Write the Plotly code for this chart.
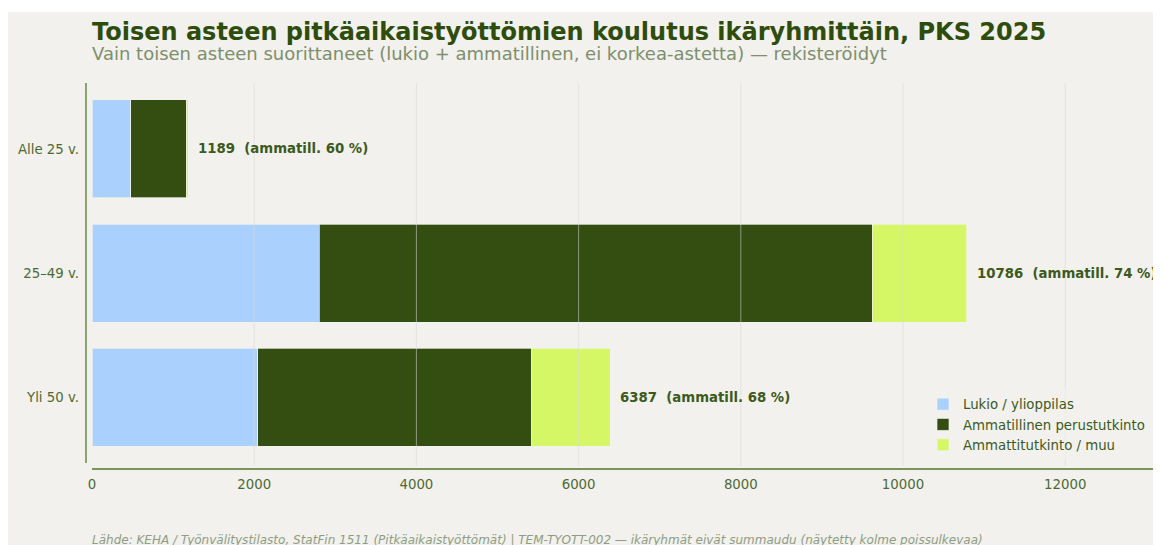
import plotly.graph_objects as go

# ---- data ----
categories = ["Alle 25 v.", "25–49 v.", "Yli 50 v."]
lukio = [476, 2804, 2044]
perus = [683, 6814, 3369]
ammatti = [30, 1168, 974]
totals = [1189, 10786, 6387]
ammatill_pct = [60, 74, 68]
series_names = ["Lukio / ylioppilas", "Ammatillinen perustutkinto", "Ammattitutkinto / muu"]
x_ticks = [0, 2000, 4000, 6000, 8000, 10000, 12000]

title = "Toisen asteen pitkäaikaistyöttömien koulutus ikäryhmittäin, PKS 2025"
subtitle = "Vain toisen asteen suorittaneet (lukio + ammatillinen, ei korkea-astetta) — rekisteröidyt"
footer = ("Lähde: KEHA / Työnvälitystilasto, StatFin 1511 (Pitkäaikaistyöttömät) | "
          "TEM-TYOTT-002 — ikäryhmät eivät summaudu (näytetty kolme poissulkevaa)")

# ---- style ----
BG = "#f2f1ee"
C_LUKIO = "#aad1fe"
C_PERUS = "#334e10"
C_AMM = "#d5f766"
C_TITLE = "#2e4d0c"
C_SUB = "#7d8f6c"
C_TICK = "#4d6a33"
C_LABEL = "#3b5a1c"
C_SPINE = "#4f7a2a"
FONT = "DejaVu Sans"

W, H = 1161, 537
ML, MR, MT, MB = 78, 8, 75, 79
PW, PH = W - ML - MR, H - MT - MB


def px(fx):
    return (fx - ML) / PW


def py(fy):
    return (H - MB - fy) / PH


fig = go.Figure()
for vals, name, col in zip([lukio, perus, ammatti], series_names, [C_LUKIO, C_PERUS, C_AMM]):
    fig.add_trace(go.Bar(
        y=categories, x=vals, name=name, orientation="h",
        marker=dict(color=col, line=dict(color="rgba(242,241,238,0.85)", width=0.8)),
        width=0.79, hoverinfo="x+name",
    ))

# value labels
for cat, tot, pct in zip(categories, totals, ammatill_pct):
    fig.add_annotation(
        x=tot, y=cat, xref="x", yref="y", xanchor="left", yanchor="middle",
        xshift=8, showarrow=False,
        text=f"<b>{tot} \u00a0(ammatill. {pct} %)</b>",
        font=dict(family=FONT, size=13.3, color=C_LABEL),
    )

shapes = []
# figure background panel (leaves a thin white strip on top, as in the original)
shapes.append(dict(type="rect", xref="paper", yref="paper", x0=px(0), x1=px(W), y0=py(H + 20), y1=py(4),
                   fillcolor=BG, line=dict(width=0), layer="below"))
# gridlines above bars
for t in x_ticks[1:]:
    shapes.append(dict(type="line", xref="x", yref="paper", x0=t, x1=t, y0=0, y1=1,
                       line=dict(color="rgba(215,215,215,0.55)", width=1), layer="above"))
# spines (offset like the original)
shapes.append(dict(type="line", xref="x", yref="paper", x0=0, x1=13300, y0=py(461), y1=py(461),
                   line=dict(color=C_SPINE, width=1.3), layer="above"))
shapes.append(dict(type="line", xref="paper", yref="paper", x0=0, x1=0, y0=py(455), y1=1,
                   line=dict(color=C_SPINE, width=1.3), layer="above"))

fig.update_layout(
    width=W, height=H,
    margin=dict(l=ML, r=MR, t=MT, b=MB, pad=0),
    paper_bgcolor="white", plot_bgcolor=BG,
    barmode="stack",
    bargap=0.21,
    font=dict(family=FONT, size=13.3, color=C_TICK),
    shapes=shapes,
    showlegend=True,
    legend=dict(
        x=px(915), y=py(452), xanchor="left", yanchor="bottom",
        bgcolor="rgba(242,241,238,0.6)", borderwidth=0,
        font=dict(family=FONT, size=13.3, color=C_LABEL),
        tracegroupgap=0, itemwidth=30, traceorder="normal",
    ),
    xaxis=dict(
        range=[-74, 13181], tickvals=x_ticks, ticktext=[str(t) for t in x_ticks],
        showgrid=False, zeroline=False, showline=False,
        ticks="", ticklabelstandoff=9,
        tickfont=dict(family=FONT, size=13.3, color=C_TICK),
    ),
    yaxis=dict(
        type="category", categoryorder="array", categoryarray=categories,
        range=[2.556, -0.532], showgrid=False, zeroline=False, showline=False,
        ticks="", ticklabelstandoff=6,
        tickfont=dict(family=FONT, size=13.3, color=C_TICK),
    ),
)

fig.add_annotation(xref="paper", yref="paper", x=px(82), y=py(24), xanchor="left", yanchor="middle",
                   showarrow=False, text=f"<b>{title}</b>",
                   font=dict(family=FONT, size=24, color=C_TITLE))
fig.add_annotation(xref="paper", yref="paper", x=px(82), y=py(46), xanchor="left", yanchor="middle",
                   showarrow=False, text=subtitle,
                   font=dict(family=FONT, size=18, color=C_SUB))
fig.add_annotation(xref="paper", yref="paper", x=px(82), y=py(532), xanchor="left", yanchor="middle",
                   showarrow=False, text=f"<i>{footer}</i>",
                   font=dict(family=FONT, size=12, color="#8e9d83"))

fig.write_html("out.html")
